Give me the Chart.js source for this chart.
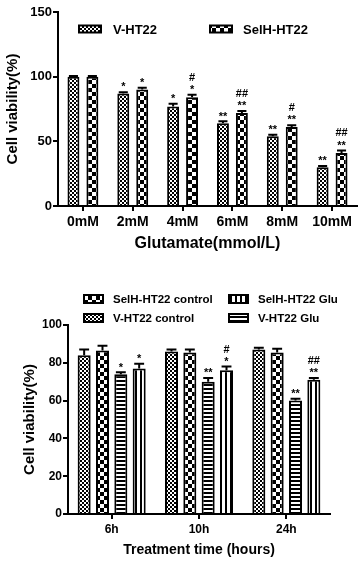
<!DOCTYPE html>
<html><head><meta charset="utf-8">
<script src="https://cdn.jsdelivr.net/npm/chart.js@4.4.0/dist/chart.umd.min.js"></script>
<style>
html,body{margin:0;padding:0;background:#fff;overflow:hidden;}
#w1{position:absolute;left:0;top:0;width:359px;height:280px;}
#w2{position:absolute;left:0;top:280px;width:359px;height:283px;}
</style></head><body>
<div id="w1"><canvas id="c1"></canvas></div>
<div id="w2"><canvas id="c2"></canvas></div>
<script>
// ---- Chart 1 data ----
const glutamateLabels = ['0mM','2mM','4mM','6mM','8mM','10mM'];
const vHT22 = [100, 87, 77, 64, 54, 30];
const vHT22Err = [0.5, 1, 2, 1.5, 1, 1];
const vHT22Sig = [[], ['*'], ['*'], ['**'], ['**'], ['**']];
const selHHT22 = [100, 90, 84, 72, 61, 41];
const selHHT22Err = [0.5, 1.5, 2, 1.5, 1.5, 2];
const selHHT22Sig = [[], ['*'], ['*','#'], ['**','##'], ['**','#'], ['**','##']];
const yTicks1 = [0, 50, 100, 150];

// ---- Chart 2 data ----
const timeLabels = ['6h','10h','24h'];
const vControl = [84, 86, 87];
const vControlErr = [3, 1, 1];
const selHControl = [86.5, 85.5, 85.5];
const selHControlErr = [2.5, 1.5, 2];
const vGlu = [74, 70, 60];
const vGluErr = [1, 2, 1];
const selHGlu = [77, 76, 71];
const selHGluErr = [2.5, 2, 1];
const vGluSig = [['*'], ['**'], ['**']];
const selHGluSig = [['*'], ['*','#'], ['**','##']];
const yTicks2 = [0, 20, 40, 60, 80, 100];

const FONT = '"Liberation Sans", Arial, sans-serif';

function makePattern(type){
  const c = document.createElement('canvas');
  const x = c.getContext('2d');
  if(type==='fine'){
    c.width=4;c.height=4;
    x.fillStyle='#fff';x.fillRect(0,0,4,4);
    x.fillStyle='#000';x.fillRect(0,0,2,2);x.fillRect(2,2,2,2);
  } else if(type==='checker'){
    c.width=8;c.height=8;
    x.fillStyle='#fff';x.fillRect(0,0,8,8);
    x.fillStyle='#000';x.fillRect(0,0,4,4);x.fillRect(4,4,4,4);
  } else if(type==='hstripe'){
    c.width=4;c.height=4;
    x.fillStyle='#fff';x.fillRect(0,0,4,4);
    x.fillStyle='#000';x.fillRect(0,0,4,2);
  } else if(type==='vstripe'){
    c.width=5;c.height=5;
    x.fillStyle='#fff';x.fillRect(0,0,5,5);
    x.fillStyle='#000';x.fillRect(0,0,2,5);
  }
  return document.createElement('canvas').getContext('2d').createPattern(c,'repeat');
}
const P = {fine:makePattern('fine'),checker:makePattern('checker'),hstripe:makePattern('hstripe'),vstripe:makePattern('vstripe')};

const errPlugin = {
  id:'errs',
  afterDatasetsDraw(chart){
    const ctx=chart.ctx, y=chart.scales.y;
    chart.data.datasets.forEach((ds,i)=>{
      const meta=chart.getDatasetMeta(i);
      meta.data.forEach((bar,j)=>{
        const v=ds.data[j], e=ds.errors[j];
        const top=y.getPixelForValue(v+e);
        const half=bar.width*0.38;
        ctx.save();
        ctx.strokeStyle='#000';ctx.lineWidth=2;
        ctx.beginPath();
        ctx.moveTo(bar.x,bar.y);ctx.lineTo(bar.x,top);
        ctx.moveTo(bar.x-half,top);ctx.lineTo(bar.x+half,top);
        ctx.stroke();
        ctx.fillStyle='#000';
        ctx.font='bold 11px '+FONT;
        ctx.textAlign='center';ctx.textBaseline='alphabetic';
        (ds.sig ? ds.sig[j] : []).forEach((s,k)=>{
          const cy=top-8-10*k;
          const off = s[0]==='#' ? 4 : 6.3;
          ctx.fillText(s,bar.x,cy+off);
        });
        ctx.restore();
      });
    });
  }
};

function legendPlugin(items,fontSize){
  return {
    id:'customLegend',
    afterDraw(chart){
      const ctx=chart.ctx;
      items.forEach(it=>{
        const ds=chart.data.datasets[it.ds];
        ctx.save();
        ctx.fillStyle=ds.backgroundColor;
        ctx.fillRect(it.x,it.y-it.h/2,it.w,it.h);
        ctx.strokeStyle='#000';ctx.lineWidth=2;
        ctx.strokeRect(it.x,it.y-it.h/2,it.w,it.h);
        ctx.fillStyle='#000';
        ctx.font='bold '+fontSize+'px '+FONT;
        ctx.textAlign='left';ctx.textBaseline='middle';
        ctx.fillText(ds.label,it.tx,it.y+1);
        ctx.restore();
      });
    }
  };
}

function axisOpts(o){
  return {
    x:{
      offset:true,
      grid:{display:true,drawOnChartArea:false,offset:false,tickLength:5,color:'#000',lineWidth:2},
      border:{display:true,color:'#000',width:2},
      ticks:{color:'#000',font:{family:FONT,size:o.xTickSize,weight:'bold'},padding:3,maxRotation:0},
      title:{display:true,text:o.xTitle,color:'#000',font:{family:FONT,size:o.xTitleSize,weight:'bold'},padding:{top:4,bottom:o.xTitlePad}},
      afterFit(s){s.height=o.xH;}
    },
    y:{
      min:o.min,max:o.max,
      afterBuildTicks(s){s.ticks=o.ticks.map(v=>({value:v}));},
      grid:{display:true,drawOnChartArea:false,tickLength:5,color:'#000',lineWidth:2},
      border:{display:true,color:'#000',width:2},
      ticks:{color:'#000',font:{family:FONT,size:o.yTickSize,weight:'bold'},padding:1},
      title:{display:true,text:'Cell viability(%)',color:'#000',font:{family:FONT,size:15,weight:'bold'},padding:{top:o.yTitlePad,bottom:0}},
      afterFit(s){s.width=o.yW;}
    }
  };
}

new Chart(document.getElementById('c1'),{
  type:'bar',
  data:{
    labels:glutamateLabels,
    datasets:[
      {label:'V-HT22',data:vHT22,errors:vHT22Err,sig:vHT22Sig,backgroundColor:P.fine,borderColor:'#000',borderWidth:2,borderSkipped:'bottom',barPercentage:0.63,categoryPercentage:0.76},
      {label:'SelH-HT22',data:selHHT22,errors:selHHT22Err,sig:selHHT22Sig,backgroundColor:P.checker,borderColor:'#000',borderWidth:2,borderSkipped:'bottom',barPercentage:0.63,categoryPercentage:0.76}
    ]
  },
  options:{
    responsive:true,maintainAspectRatio:false,animation:false,devicePixelRatio:1,
    layout:{padding:{left:0,right:2,top:12,bottom:0}},
    plugins:{legend:{display:false},tooltip:{enabled:false}},
    scales:axisOpts({min:0,max:150,ticks:yTicks1,yW:58,xH:74,xTitle:'Glutamate(mmol/L)',xTickSize:14,xTitleSize:16,xTitlePad:27,yTickSize:13,yTitlePad:4})
  },
  plugins:[errPlugin,legendPlugin([
    {ds:0,x:79,y:29,w:22,h:7,tx:113},
    {ds:1,x:210,y:29,w:22,h:7,tx:243}
  ],13)]
});

new Chart(document.getElementById('c2'),{
  type:'bar',
  data:{
    labels:timeLabels,
    datasets:[
      {label:'V-HT22 control',data:vControl,errors:vControlErr,backgroundColor:P.fine,borderColor:'#000',borderWidth:2,borderSkipped:'bottom',barPercentage:0.71,categoryPercentage:0.84},
      {label:'SelH-HT22 control',data:selHControl,errors:selHControlErr,backgroundColor:P.checker,borderColor:'#000',borderWidth:2,borderSkipped:'bottom',barPercentage:0.71,categoryPercentage:0.84},
      {label:'V-HT22 Glu',data:vGlu,errors:vGluErr,sig:vGluSig,backgroundColor:P.hstripe,borderColor:'#000',borderWidth:2,borderSkipped:'bottom',barPercentage:0.71,categoryPercentage:0.84},
      {label:'SelH-HT22 Glu',data:selHGlu,errors:selHGluErr,sig:selHGluSig,backgroundColor:P.vstripe,borderColor:'#000',borderWidth:2,borderSkipped:'bottom',barPercentage:0.71,categoryPercentage:0.84}
    ]
  },
  options:{
    responsive:true,maintainAspectRatio:false,animation:false,devicePixelRatio:1,
    layout:{padding:{left:0,right:29,top:45,bottom:0}},
    plugins:{legend:{display:false},tooltip:{enabled:false}},
    scales:axisOpts({min:0,max:100,ticks:yTicks2,yW:68,xH:49,xTitle:'Treatment time (hours)',xTickSize:12,xTitleSize:14,xTitlePad:4,yTickSize:12,yTitlePad:21})
  },
  plugins:[errPlugin,legendPlugin([
    {ds:1,x:84,y:19,w:19,h:8,tx:113},
    {ds:0,x:84,y:38,w:19,h:8,tx:113},
    {ds:3,x:229,y:19,w:19,h:8,tx:258},
    {ds:2,x:229,y:38,w:19,h:8,tx:258}
  ],11.5)]
});
</script>
</body></html>
